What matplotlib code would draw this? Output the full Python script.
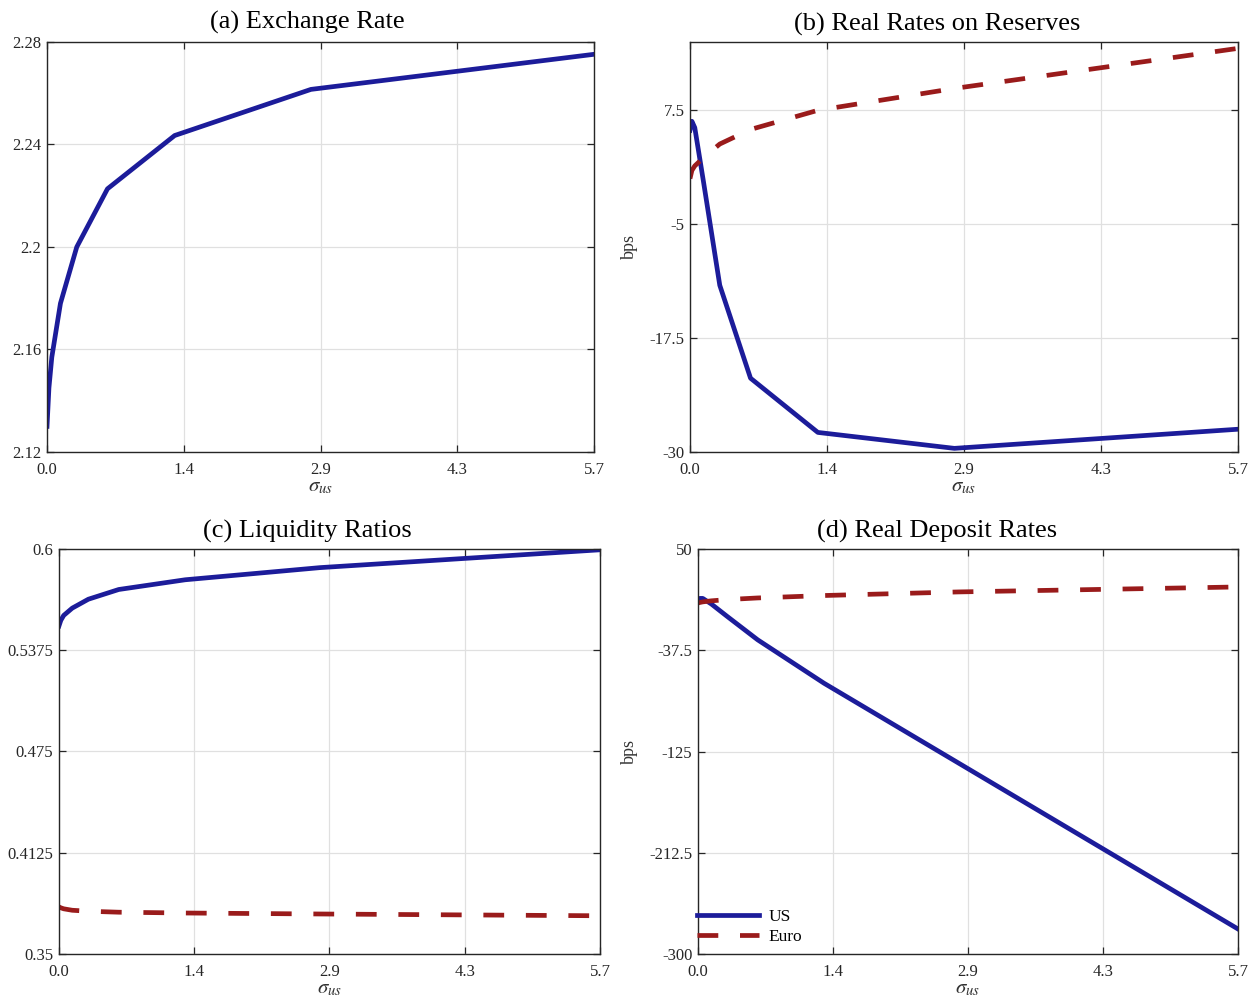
import matplotlib
matplotlib.use("Agg")
import matplotlib.pyplot as plt

# sigma_us grid
sigma = [0.0, 0.02, 0.05, 0.14, 0.31, 0.63, 1.33, 2.75, 5.7]

# (a) exchange rate
fx = [2.130, 2.145, 2.157, 2.178, 2.200, 2.2227, 2.2435, 2.2615, 2.2752]

# (b) real rates on reserves, bps
res_us = [5.3, 6.3, 5.6, -0.3, -11.7, -21.9, -27.85, -29.6, -27.5]
res_eu = [0.0, 0.9, 1.4, 2.3, 3.8, 5.4, 7.5, 9.9, 14.3]

# (c) liquidity ratios
liq_us = [0.5525, 0.5560, 0.5590, 0.5635, 0.5690, 0.5750, 0.5810, 0.5885, 0.5995]
liq_eu = [0.3791, 0.3785, 0.3779, 0.3770, 0.3764, 0.3758, 0.3753, 0.3747, 0.3736]

# (d) real deposit rates, bps
dep_us = [6.8, 7.3, 7.3, 2.5, -8.4, -28.5, -66.0, -135.0, -278.4]
dep_eu = [3.3, 3.8, 4.3, 5.2, 6.3, 7.7, 9.8, 12.9, 17.2]

xticks = [0.0, 1.425, 2.85, 4.275, 5.7]
xticklabels = ["0.0", "1.4", "2.9", "4.3", "5.7"]

yticks_a = [2.12, 2.16, 2.2, 2.24, 2.28]
yticklabels_a = ["2.12", "2.16", "2.2", "2.24", "2.28"]
yticks_b = [-30, -17.5, -5, 7.5]
yticklabels_b = ["-30", "-17.5", "-5", "7.5"]
yticks_c = [0.35, 0.4125, 0.475, 0.5375, 0.6]
yticklabels_c = ["0.35", "0.4125", "0.475", "0.5375", "0.6"]
yticks_d = [-300, -212.5, -125, -37.5, 50]
yticklabels_d = ["-300", "-212.5", "-125", "-37.5", "50"]

blue = "#1c1c9a"
red = "#9a1b1b"
lw = 3.4
dash = (4.4, 4.6)

plt.rcParams["font.family"] = ["Liberation Serif", "DejaVu Serif"]
plt.rcParams["mathtext.fontset"] = "stix"

fig = plt.figure(figsize=(12.57, 10.02), dpi=100)


def setup(ax, title, tx, tpad, yticks, yticklabels, ylim, ylabel=None):
    ax.set_xlim(0, 5.7)
    ax.set_ylim(*ylim)
    ax.set_xticks(xticks)
    ax.set_xticklabels(xticklabels)
    ax.set_yticks(yticks)
    ax.set_yticklabels(yticklabels)
    ax.grid(True, color="#e0e0e0", lw=0.9)
    ax.set_axisbelow(True)
    ax.tick_params(direction="in", top=True, right=True, labelsize=12,
                   length=5, width=0.9, colors="#262626")
    ax.tick_params(axis="x", pad=7)
    ax.tick_params(axis="y", pad=4)
    for s in ax.spines.values():
        s.set_color("#262626")
        s.set_linewidth(1.0)
    ax.set_title(title, fontsize=19, x=tx, pad=tpad)
    ax.set_xlabel(r"$\sigma_{us}$", fontsize=15, labelpad=0, color="#333333")
    if ylabel:
        ax.set_ylabel(ylabel, fontsize=13, labelpad=8, color="#333333")


ax_a = fig.add_axes([0.0374, 0.5489, 0.4352, 0.4092])
ax_a.plot(sigma, fx, color=blue, lw=lw)
setup(ax_a, "(a) Exchange Rate", 0.475, 10, yticks_a, yticklabels_a,
      (2.12, 2.28))

ax_b = fig.add_axes([0.5489, 0.5489, 0.4360, 0.4092])
ax_b.plot(sigma, res_us, color=blue, lw=lw)
ax_b.plot(sigma, res_eu, color=red, lw=lw, ls=(0, dash))
setup(ax_b, "(b) Real Rates on Reserves", 0.451, 8, yticks_b, yticklabels_b,
      (-30, 15), ylabel="bps")

ax_c = fig.add_axes([0.0469, 0.0479, 0.4304, 0.4042])
ax_c.plot(sigma, liq_us, color=blue, lw=lw)
ax_c.plot(sigma, liq_eu, color=red, lw=lw, ls=(0, dash))
setup(ax_c, "(c) Liquidity Ratios", 0.46, 8, yticks_c, yticklabels_c,
      (0.35, 0.6))

ax_d = fig.add_axes([0.5553, 0.0479, 0.4296, 0.4042])
ax_d.plot(sigma, dep_us, color=blue, lw=lw, label="US")
ax_d.plot(sigma, dep_eu, color=red, lw=lw, ls=(0, dash), label="Euro")
setup(ax_d, "(d) Real Deposit Rates", 0.443, 8, yticks_d, yticklabels_d,
      (-300, 50), ylabel="bps")
ax_d.legend(loc="lower left", frameon=False, fontsize=12.5, handlelength=3.6,
            handletextpad=0.5, borderaxespad=0, borderpad=0,
            labelspacing=0.25, bbox_to_anchor=(-0.002, 0.022))

fig.savefig("out.png", dpi=100)
